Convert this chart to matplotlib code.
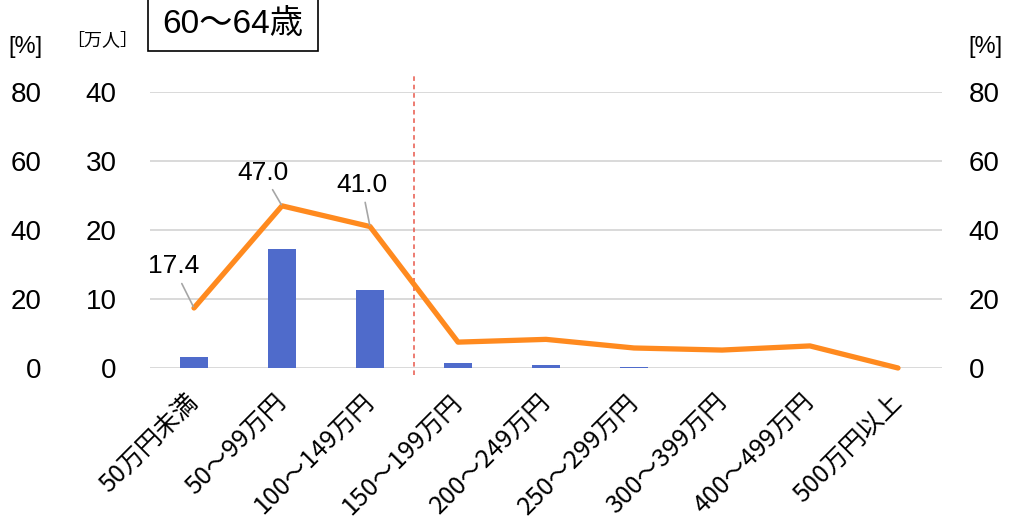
import matplotlib
matplotlib.use("Agg")
import matplotlib.pyplot as plt
from matplotlib.patches import Rectangle
from matplotlib.transforms import ScaledTranslation

plt.rcParams['font.family'] = ['Noto Sans CJK JP', 'DejaVu Sans']
NUM = ['Liberation Sans', 'Noto Sans CJK JP']

categories = ['50万円未満', '50～99万円', '100～149万円', '150～199万円', '200～249万円',
              '250～299万円', '300～399万円', '400～499万円', '500万円以上']
people = [1.6, 17.2, 11.3, 0.7, 0.5, 0.1, 0.0, 0.0, 0.0]      # 万人 (bars)
percent = [17.4, 47.0, 41.0, 7.5, 8.3, 5.8, 5.2, 6.4, 0.0]    # % (line)
pct_ticks = [0, 20, 40, 60, 80]
ppl_ticks = [0, 10, 20, 30, 40]
labelled = [0, 1, 2]
title = '60～64歳'

W, H = 1009, 519
fig = plt.figure(figsize=(W / 100, H / 100), dpi=100)
L, R, B, T = 150, 942, 368, 92
ax = fig.add_axes([L / W, (H - B) / H, (R - L) / W, (B - T) / H])

x = list(range(len(categories)))
bar_color = '#4F6BCB'
line_color = '#FF8A1F'

ax.bar(x, people, width=0.32, color=bar_color, zorder=3)
ax.set_ylim(0, 40)
ax.set_xlim(-0.5, len(categories) - 0.5)
ax.set_yticks(ppl_ticks)
ax.set_yticklabels([str(v) for v in ppl_ticks], fontsize=20, family=NUM)
ax.tick_params(axis='y', length=0, pad=24)
ax.set_xticks(x)
ax.set_xticklabels(categories, rotation=45, ha='right', va='top',
                   rotation_mode='anchor', fontsize=18)
ax.tick_params(axis='x', length=0, pad=15)
shift = ScaledTranslation(-9 / 100, 0, fig.dpi_scale_trans)
for lab in ax.get_xticklabels():
    lab.set_transform(lab.get_transform() + shift)
for s in ax.spines.values():
    s.set_visible(False)
ax.grid(axis='y', color='#D9D9D9', linewidth=1.4, zorder=0)
ax.set_axisbelow(True)

# right % axis with the line
ax2 = ax.twinx()
ax2.set_ylim(0, 80)
ax2.set_yticks(pct_ticks)
ax2.set_yticklabels([str(v) for v in pct_ticks], fontsize=20, family=NUM)
ax2.tick_params(axis='y', length=0, pad=19)
for s in ax2.spines.values():
    s.set_visible(False)
ax2.plot(x, percent, color=line_color, linewidth=3.8, solid_joinstyle='round',
         solid_capstyle='round', zorder=4, clip_on=False)

# left % axis (far left)
ax3 = ax.twinx()
ax3.set_ylim(0, 80)
ax3.yaxis.tick_left()
ax3.set_yticks(pct_ticks)
ax3.set_yticklabels([str(v) for v in pct_ticks], fontsize=20, family=NUM)
ax3.tick_params(axis='y', length=0, pad=78)
for s in ax3.spines.values():
    s.set_visible(False)
ax3.set_xlim(ax.get_xlim())

# annotations
offsets = [(-15, 30), (-14, 24), (-6, 30)]
for i, off in zip(labelled, offsets):
    ax2.annotate(f'{percent[i]:.1f}', xy=(x[i], percent[i]), xytext=off,
                 textcoords='offset points', ha='center', va='center', fontsize=19,
                 family=NUM,
                 arrowprops=dict(arrowstyle='-', color='#A6A6A6', lw=1.2,
                                 shrinkA=2, shrinkB=1), zorder=6)

# dashed separator
ax.plot([2.5, 2.5], [-0.025, 1.062], transform=ax.get_xaxis_transform(),
        color='#E8574A', linestyle=(0, (3, 2.5)), linewidth=1.1, clip_on=False, zorder=5)

# unit labels
fig.text(25 / W, 1 - 47 / H, '[%]', ha='center', va='center', fontsize=17, family=NUM)
fig.text(102 / W, 1 - 40 / H, '［万人］', ha='center', va='center', fontsize=13)
fig.text(985 / W, 1 - 47 / H, '[%]', ha='center', va='center', fontsize=17, family=NUM)

# title box
fig.patches.append(Rectangle((148 / W, 1 - 51 / H), 170 / W, 60 / H, transform=fig.transFigure,
                             facecolor='white', edgecolor='black', linewidth=1.2))
fig.text(233 / W, 1 - 24 / H, title, ha='center', va='center', fontsize=24, family=NUM)

fig.savefig('out.png', dpi=100)
